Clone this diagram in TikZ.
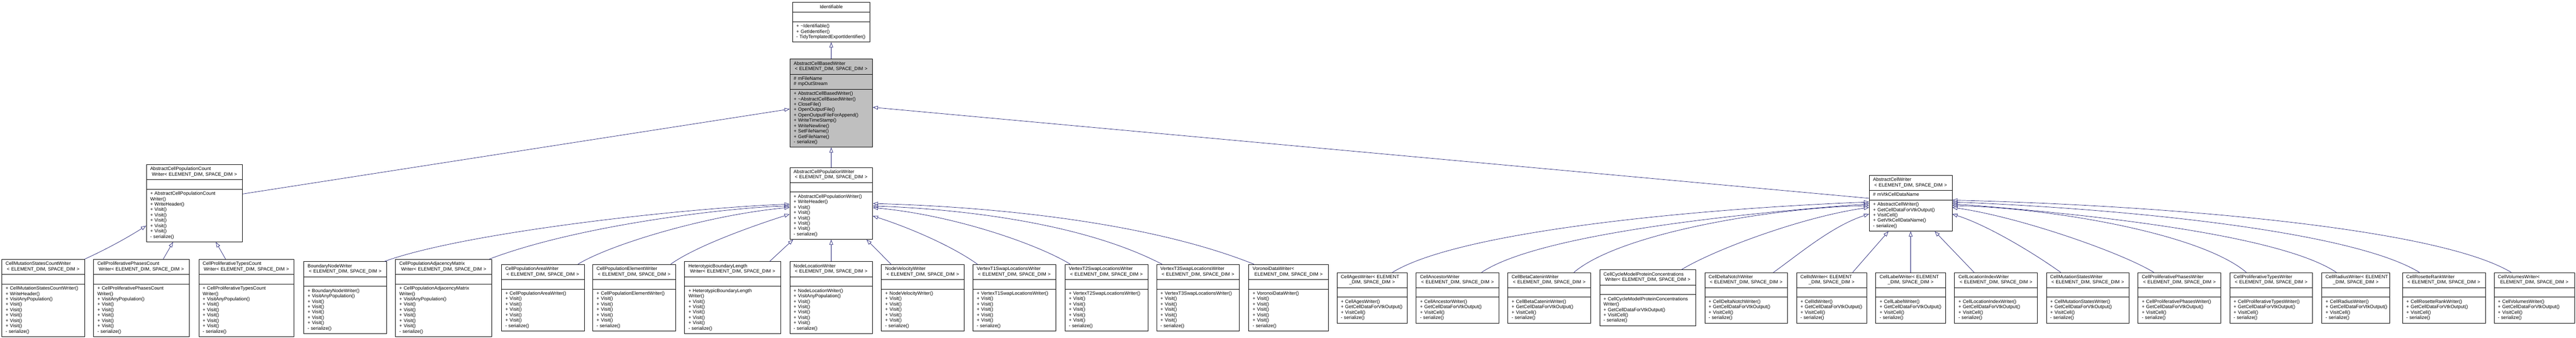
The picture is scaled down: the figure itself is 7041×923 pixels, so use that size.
\documentclass[tikz,border=0pt]{standalone}
\usepackage{fontspec}
\setmainfont{Liberation Sans}
\usetikzlibrary{shapes.multipart,arrows.meta,calc}

\definecolor{edgeblue}{HTML}{191970}
\definecolor{basegray}{HTML}{BFBFBF}

\newcommand{\umlfont}{\fontsize{13}{14.7}\selectfont\parindent=0pt}
\newcommand{\mth}[1]{\mbox{\strut#1}\par}
\newcommand{\ttl}[2]{\mth{#1}{\centering\mth{#2}}}
\newcommand{\none}{\mth{}}
\newcommand{\tdim}{< ELEMENT\_DIM, SPACE\_DIM >}
\newcommand{\wdim}{Writer< ELEMENT\_DIM, SPACE\_DIM >}
\newcommand{\visits}{\mth{+ Visit()}\mth{+ Visit()}\mth{+ Visit()}\mth{+ Visit()}\mth{+ Visit()}}
\newcommand{\vtkops}[1]{\mth{+ #1()}\mth{+ GetCellDataForVtkOutput()}\mth{+ VisitCell()}\mth{- serialize()}}

\begin{document}
\begin{tikzpicture}[x=1pt,y=-1pt,
	cls/.style={rectangle split, rectangle split parts=3, draw=black, line width=1.2pt, fill=white,
		inner xsep=10.5pt, inner ysep=5.25pt, anchor=north, align=left, font=\umlfont, text width=#1},
	cls/.default=205.4pt,
	inh/.style={draw=edgeblue, line width=1pt, -{Triangle[open,length=14pt,width=10pt]}}]
	\useasboundingbox (0,0) rectangle (7041,923);

	\node[cls=191pt] (ident) at (2272,6) {{\centering\mth{Identifiable}}\nodepart{two}\none\nodepart{three}\mth{+ \textasciitilde Identifiable()}\mth{+ GetIdentifier()}\mth{- TidyTemplatedExportIdentifier()}};
	\node[cls=205pt,fill=basegray] (base) at (2272,161) {\ttl{AbstractCellBasedWriter}{\tdim}\nodepart{two}\mth{\# mFileName}\mth{\# mpOutStream}\nodepart{three}\mth{+ AbstractCellBasedWriter()}\mth{+ \textasciitilde AbstractCellBasedWriter()}\mth{+ CloseFile()}\mth{+ OpenOutputFile()}\mth{+ OpenOutputFileForAppend()}\mth{+ WriteTimeStamp()}\mth{+ WriteNewline()}\mth{+ SetFileName()}\mth{+ GetFileName()}\mth{- serialize()}};

	\node[cls=242pt] (cw) at (531.5,449) {\ttl{AbstractCellPopulationCount}{\wdim}\nodepart{two}\none\nodepart{three}\mth{+ AbstractCellPopulationCount}\mth{Writer()}\mth{+ WriteHeader()}\visits\mth{- serialize()}};
	\node[cls] (pw) at (2272,457) {\ttl{AbstractCellPopulationWriter}{\tdim}\nodepart{two}\none\nodepart{three}\mth{+ AbstractCellPopulationWriter()}\mth{+ WriteHeader()}\visits\mth{- serialize()}};
	\node[cls] (cwr) at (5222.4,478.5) {\ttl{AbstractCellWriter}{\tdim}\nodepart{two}\mth{\# mVtkCellDataName}\nodepart{three}\mth{+ AbstractCellWriter()}\mth{+ GetCellDataForVtkOutput()}\mth{+ VisitCell()}\mth{+ GetVtkCellDataName()}\mth{- serialize()}};

	\node[cls] (b1) at (118,708) {\ttl{CellMutationStatesCountWriter}{\tdim}\nodepart{two}\none\nodepart{three}\mth{+ CellMutationStatesCountWriter()}\mth{+ WriteHeader()}\mth{+ VisitAnyPopulation()}\visits\mth{- serialize()}};
	\node[cls=240pt] (b2) at (386.2,708) {\ttl{CellProliferativePhasesCount}{\wdim}\nodepart{two}\none\nodepart{three}\mth{+ CellProliferativePhasesCount}\mth{Writer()}\mth{+ VisitAnyPopulation()}\visits\mth{- serialize()}};
	\node[cls=239pt] (b3) at (673.5,708) {\ttl{CellProliferativeTypesCount}{\wdim}\nodepart{two}\none\nodepart{three}\mth{+ CellProliferativeTypesCount}\mth{Writer()}\mth{+ VisitAnyPopulation()}\visits\mth{- serialize()}};
	\node[cls] (b4) at (943.7,714.5) {\ttl{BoundaryNodeWriter}{\tdim}\nodepart{two}\none\nodepart{three}\mth{+ BoundaryNodeWriter()}\mth{+ VisitAnyPopulation()}\visits\mth{- serialize()}};
	\node[cls=242.4pt] (b5) at (1212.7,708) {\ttl{CellPopulationAdjacencyMatrix}{\wdim}\nodepart{two}\none\nodepart{three}\mth{+ CellPopulationAdjacencyMatrix}\mth{Writer()}\mth{+ VisitAnyPopulation()}\visits\mth{- serialize()}};
	\node[cls] (b6) at (1483.8,722) {\ttl{CellPopulationAreaWriter}{\tdim}\nodepart{two}\none\nodepart{three}\mth{+ CellPopulationAreaWriter()}\visits\mth{- serialize()}};
	\node[cls] (b7) at (1733.2,722) {\ttl{CellPopulationElementWriter}{\tdim}\nodepart{two}\none\nodepart{three}\mth{+ CellPopulationElementWriter()}\visits\mth{- serialize()}};
	\node[cls=241.8pt] (b8) at (2002.6,714.5) {\ttl{HeterotypicBoundaryLength}{\wdim}\nodepart{two}\none\nodepart{three}\mth{+ HeterotypicBoundaryLength}\mth{Writer()}\visits\mth{- serialize()}};
	\node[cls] (b9) at (2272,714.5) {\ttl{NodeLocationWriter}{\tdim}\nodepart{two}\none\nodepart{three}\mth{+ NodeLocationWriter()}\mth{+ VisitAnyPopulation()}\visits\mth{- serialize()}};
	\node[cls] (b10) at (2522.3,722) {\ttl{NodeVelocityWriter}{\tdim}\nodepart{two}\none\nodepart{three}\mth{+ NodeVelocityWriter()}\visits\mth{- serialize()}};
	\node[cls] (b11) at (2772.6,722) {\ttl{VertexT1SwapLocationsWriter}{\tdim}\nodepart{two}\none\nodepart{three}\mth{+ VertexT1SwapLocationsWriter()}\visits\mth{- serialize()}};
	\node[cls] (b12) at (3024.3,722) {\ttl{VertexT2SwapLocationsWriter}{\tdim}\nodepart{two}\none\nodepart{three}\mth{+ VertexT2SwapLocationsWriter()}\visits\mth{- serialize()}};
	\node[cls] (b13) at (3274.6,722) {\ttl{VertexT3SwapLocationsWriter}{\tdim}\nodepart{two}\none\nodepart{three}\mth{+ VertexT3SwapLocationsWriter()}\visits\mth{- serialize()}};
	\node[cls=196.4pt] (b14) at (3522,722) {\ttl{VoronoiDataWriter<}{ELEMENT\_DIM, SPACE\_DIM >}\nodepart{two}\none\nodepart{three}\mth{+ VoronoiDataWriter()}\visits\mth{- serialize()}};

	\node[cls=171pt] (c15) at (3750.3,744.3) {\ttl{CellAgesWriter< ELEMENT}{\_DIM, SPACE\_DIM >}\nodepart{two}\none\nodepart{three}\vtkops{CellAgesWriter}};
	\node[cls] (c16) at (3984,744.3) {\ttl{CellAncestorWriter}{\tdim}\nodepart{two}\none\nodepart{three}\vtkops{CellAncestorWriter}};
	\node[cls] (c17) at (4234.4,744.3) {\ttl{CellBetaCateninWriter}{\tdim}\nodepart{two}\none\nodepart{three}\vtkops{CellBetaCateninWriter}};
	\node[cls=241.8pt] (c18) at (4503.8,737) {\ttl{CellCycleModelProteinConcentrations}{\wdim}\nodepart{two}\none\nodepart{three}\mth{+ CellCycleModelProteinConcentrations}\mth{Writer()}\mth{+ GetCellDataForVtkOutput()}\mth{+ VisitCell()}\mth{- serialize()}};
	\node[cls] (c19) at (4772.9,744.3) {\ttl{CellDeltaNotchWriter}{\tdim}\nodepart{two}\none\nodepart{three}\vtkops{CellDeltaNotchWriter}};
	\node[cls=170.4pt] (c20) at (5006.3,744.3) {\ttl{CellIdWriter< ELEMENT}{\_DIM, SPACE\_DIM >}\nodepart{two}\none\nodepart{three}\vtkops{CellIdWriter}};
	\node[cls=169.7pt] (c21) at (5222.4,744.3) {\ttl{CellLabelWriter< ELEMENT}{\_DIM, SPACE\_DIM >}\nodepart{two}\none\nodepart{three}\vtkops{CellLabelWriter}};
	\node[cls] (c22) at (5455.6,744.3) {\ttl{CellLocationIndexWriter}{\tdim}\nodepart{two}\none\nodepart{three}\vtkops{CellLocationIndexWriter}};
	\node[cls] (c23) at (5706.4,744.3) {\ttl{CellMutationStatesWriter}{\tdim}\nodepart{two}\none\nodepart{three}\vtkops{CellMutationStatesWriter}};
	\node[cls] (c24) at (5956.9,744.3) {\ttl{CellProliferativePhasesWriter}{\tdim}\nodepart{two}\none\nodepart{three}\vtkops{CellProliferativePhasesWriter}};
	\node[cls] (c25) at (6207.8,744.3) {\ttl{CellProliferativeTypesWriter}{\tdim}\nodepart{two}\none\nodepart{three}\vtkops{CellProliferativeTypesWriter}};
	\node[cls=164.6pt] (c26) at (6438.8,744.3) {\ttl{CellRadiusWriter< ELEMENT}{\_DIM, SPACE\_DIM >}\nodepart{two}\none\nodepart{three}\vtkops{CellRadiusWriter}};
	\node[cls] (c27) at (6679.8,744.3) {\ttl{CellRosetteRankWriter}{\tdim}\nodepart{two}\none\nodepart{three}\vtkops{CellRosetteRankWriter}};
	\node[cls=198.7pt] (c28) at (6926.8,744.3) {\ttl{CellVolumesWriter<}{ELEMENT\_DIM, SPACE\_DIM >}\nodepart{two}\none\nodepart{three}\vtkops{CellVolumesWriter}};

	\draw[inh] (base.north) -- (ident.south);
	\draw[inh] ($(cw.north east)+(0,81)$) -- ($(base.north west)+(0,137)$);
	\draw[inh] (pw.north) -- (base.south);
	\draw[inh] ($(cwr.north west)+(0,63.5)$) -- ($(base.north east)+(0,132.3)$);

	\draw[inh] (b1.north east) .. controls +(55,-25) and +(-55,35) .. ($(cw.north west)+(0,168)$);
	\draw[inh] ($(b2.north)+(60,0)$) -- ($(cw.south)+(-58.5,0)$);
	\draw[inh] ($(b3.north)+(-57,0)$) -- ($(cw.south)+(58.5,0)$);

	\draw[inh] ($(b4.north)+(107,0)$) .. controls +(220,-80) and +(-280,10) .. ($(pw.north west)+(0,101)$);
	\draw[inh] ($(b5.north)+(125,0)$) .. controls +(250,-95) and +(-150,3) .. ($(pw.north west)+(0,106)$);
	\draw[inh] ($(b6.north)+(96,0)$) .. controls +(90,-55) and +(-220,20) .. ($(pw.north west)+(0,110)$);
	\draw[inh] ($(b7.north)+(100,0)$) .. controls +(70,-50) and +(-100,32) .. ($(pw.north west)+(0,128.3)$);
	\draw[inh] ($(b8.north)+(101,0)$) -- ($(pw.south)+(-104.3,0)$);
	\draw[inh] (b9.north) -- (pw.south);
	\draw[inh] ($(b10.north)+(-87,0)$) -- ($(pw.south)+(96.6,0)$);
	\draw[inh] ($(b11.north)+(-101,0)$) .. controls +(-70,-50) and +(100,32) .. ($(pw.north east)+(0,133.3)$);
	\draw[inh] ($(b12.north)+(-99,0)$) .. controls +(-90,-55) and +(220,20) .. ($(pw.north east)+(0,110.6)$);
	\draw[inh] ($(b13.north)+(-98.6,0)$) .. controls +(-250,-130) and +(150,5) .. ($(pw.north east)+(0,106)$);
	\draw[inh] ($(b14.north)+(-94.7,0)$) .. controls +(-300,-120) and +(300,8) .. ($(pw.north east)+(0,99.3)$);

	\draw[inh] ($(c15.north)+(55.7,0)$) .. controls +(180,-110) and +(-500,20) .. ($(cwr.north west)+(0,73.5)$);
	\draw[inh] ($(c16.north)+(65.7,0)$) .. controls +(150,-100) and +(-400,30) .. ($(cwr.north west)+(0,78.5)$);
	\draw[inh] ($(c17.north)+(67.6,0)$) .. controls +(130,-110) and +(-250,5) .. ($(cwr.north west)+(0,83.5)$);
	\draw[inh] ($(c18.north)+(92,0)$) .. controls +(90,-55) and +(-180,25) .. ($(cwr.north west)+(0,88.5)$);
	\draw[inh] ($(c19.north)+(74.6,0)$) .. controls +(70,-50) and +(-100,32) .. ($(cwr.north west)+(0,106.5)$);
	\draw[inh] ($(c20.north)+(57.6,0)$) -- ($(cwr.south)+(-60.7,0)$);
	\draw[inh] (c21.north) -- (cwr.south);
	\draw[inh] ($(c22.north)+(-60,0)$) -- ($(cwr.south)+(65.8,0)$);
	\draw[inh] ($(c23.north)+(-74,0)$) .. controls +(-70,-50) and +(100,32) .. ($(cwr.north east)+(0,106.5)$);
	\draw[inh] ($(c24.north)+(-70,0)$) .. controls +(-90,-55) and +(180,25) .. ($(cwr.north east)+(0,88.5)$);
	\draw[inh] ($(c25.north)+(-68,0)$) .. controls +(-130,-110) and +(250,5) .. ($(cwr.north east)+(0,83.5)$);
	\draw[inh] ($(c26.north)+(-53,0)$) .. controls +(-150,-100) and +(400,30) .. ($(cwr.north east)+(0,78.5)$);
	\draw[inh] ($(c27.north)+(-67,0)$) .. controls +(-180,-110) and +(500,20) .. ($(cwr.north east)+(0,73.5)$);
	\draw[inh] ($(c28.north)+(-63,0)$) .. controls +(-200,-120) and +(600,15) .. ($(cwr.north east)+(0,68.5)$);
\end{tikzpicture}
\end{document}
